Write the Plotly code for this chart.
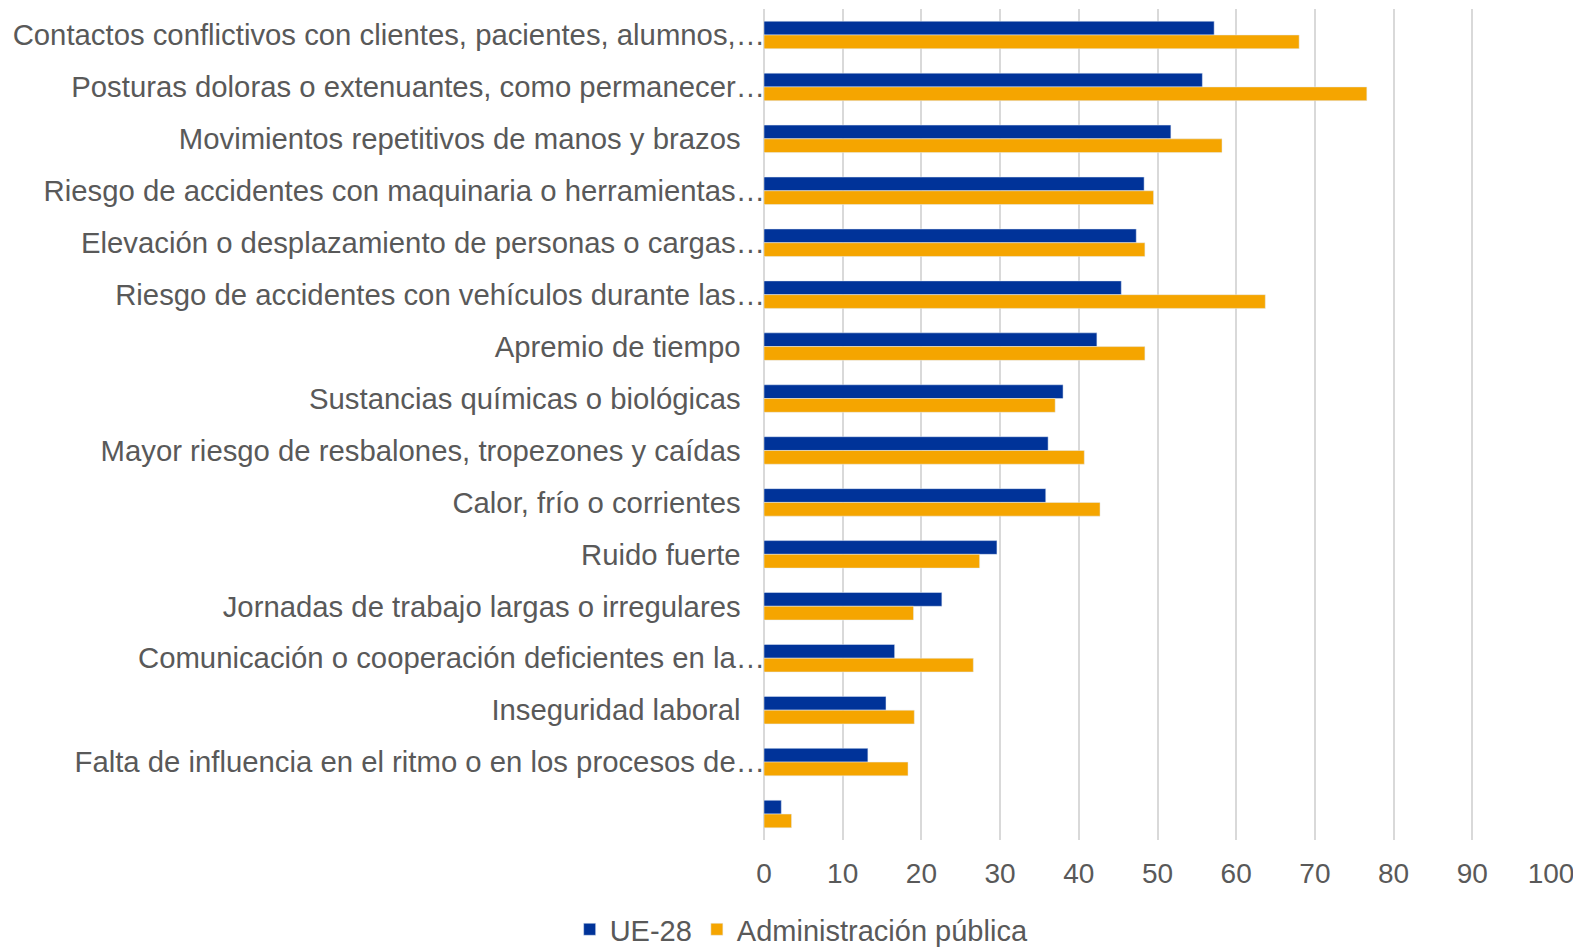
import plotly.graph_objects as go

categories = [
    "Contactos conflictivos con clientes, pacientes, alumnos,…",
    "Posturas doloras o extenuantes, como permanecer…",
    "Movimientos repetitivos de manos y brazos",
    "Riesgo de accidentes con maquinaria o herramientas…",
    "Elevación o desplazamiento de personas o cargas…",
    "Riesgo de accidentes con vehículos durante las…",
    "Apremio de tiempo",
    "Sustancias químicas o biológicas",
    "Mayor riesgo de resbalones, tropezones y caídas",
    "Calor, frío o corrientes",
    "Ruido fuerte",
    "Jornadas de trabajo largas o irregulares",
    "Comunicación o cooperación deficientes en la…",
    "Inseguridad laboral",
    "Falta de influencia en el ritmo o en los procesos de…",
    " ",
]
ue28 = [57.2, 55.7, 51.7, 48.3, 47.3, 45.4, 42.3, 38.0, 36.1, 35.8, 29.6, 22.6, 16.6, 15.5, 13.2, 2.2]
admin_publica = [68.0, 76.6, 58.2, 49.5, 48.4, 63.7, 48.4, 37.0, 40.7, 42.7, 27.4, 19.0, 26.6, 19.1, 18.3, 3.5]
x_ticks = [0, 10, 20, 30, 40, 50, 60, 70, 80, 90, 100]

BLUE = "#003399"
ORANGE = "#F5A500"
GREY_TEXT = "#595959"
GRID = "#d9d9d9"
FONT = "Liberation Sans, Arial, sans-serif"

# Excel leaves a gap after untruncated labels; truncated ones run up to the axis
labels = [c if c.endswith("…") or not c.strip() else c + "\u00a0" * 3 for c in categories]

fig = go.Figure()
fig.add_trace(go.Bar(y=labels, x=ue28, name="UE-28", orientation="h", marker_color=BLUE))
fig.add_trace(go.Bar(y=labels, x=admin_publica, name="Administración pública", orientation="h",
                     marker_color=ORANGE))

fig.update_xaxes(
    range=[0, 100], tickvals=x_ticks, showgrid=True, gridcolor=GRID, gridwidth=1.5,
    zeroline=True, zerolinecolor=GRID, zerolinewidth=1.5, showline=False,
    tickfont=dict(size=28, color=GREY_TEXT), ticklabelstandoff=14,
)
fig.update_yaxes(
    autorange="reversed", categoryorder="array", categoryarray=labels,
    showgrid=False, ticks="", automargin=False, ticklabelstandoff=-2,
    tickfont=dict(size=29.3, color=GREY_TEXT),
)
# page body adds an 8px offset, so margins are shifted to compensate
fig.update_layout(
    width=1581, height=947,
    barmode="group", bargap=0.47, bargroupgap=0,
    plot_bgcolor="white", paper_bgcolor="white",
    font=dict(family=FONT, color=GREY_TEXT),
    margin=dict(l=756, r=38, t=1, b=115),
    legend=dict(orientation="h", xref="container", yref="container", x=0.502, xanchor="center",
                y=0.027, yanchor="middle", font=dict(size=29, color=GREY_TEXT), traceorder="normal"),
)

fig.write_html("out.html")
